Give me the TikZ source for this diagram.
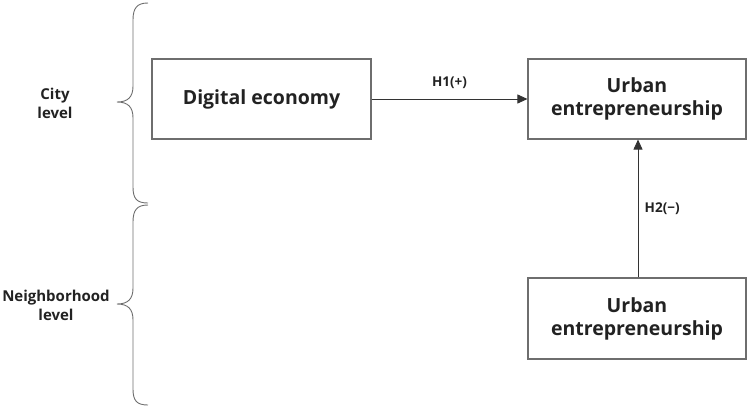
\documentclass[tikz,border=0pt]{standalone}
\usepackage{fontspec}
\setmainfont{Open Sans}
\usetikzlibrary{arrows.meta}
\definecolor{linegray}{HTML}{6E6E6E}
\definecolor{txt}{HTML}{222222}
\tikzset{
  box/.style={draw=linegray, line width=1.1pt, fill=white, align=center, text=txt,
    font=\fontsize{19.5}{23}\selectfont\bfseries, inner sep=0pt},
  lab/.style={text=txt, font=\fontsize{13.5}{16}\selectfont\bfseries, align=center},
  side/.style={text=txt, font=\fontsize{15}{19}\selectfont\bfseries, align=center},
  conn/.style={draw=black!80, line width=0.8pt, -{Triangle[length=10pt,width=9pt]}},
  bracel/.style={draw=linegray, line width=0.9pt}
}
\begin{document}
\begin{tikzpicture}[x=1pt,y=-1pt]
\useasboundingbox (0,0) rectangle (750,408);
\node[box, minimum width=219pt, minimum height=80pt] (de) at (261.5,99) {Digital economy};
\node[box, minimum width=218pt, minimum height=80pt] (ue1) at (637,99) {Urban\\entrepreneurship};
\node[box, minimum width=218pt, minimum height=81pt] (ue2) at (637,318.5) {Urban\\entrepreneurship};
\draw[conn] (de.east) -- (ue1.west) node[lab, midway, above=7pt] (h1) {H1(+)};
\coordinate (a2) at (638,278);
\draw[conn] (ue2.north -| a2) -- (ue1.south -| a2) node[lab, midway, right=3pt] (h2) {H2(−)};
\node[side] (city) at (55,103) {City\\level};
\node[side] (nb) at (56,305) {Neighborhood\\level};
\draw[bracel] (148,3) .. controls (137,3) and (133,8) .. (133,20) -- (133,86)
  .. controls (133,97) and (128,102) .. (117,102)
  .. controls (128,102) and (133,107) .. (133,118) -- (133,187)
  .. controls (133,199) and (137,203) .. (148,203);
\draw[bracel] (148,205) .. controls (137,205) and (133,210) .. (133,222) -- (133,288)
  .. controls (133,299) and (128,304) .. (117,304)
  .. controls (128,304) and (133,309) .. (133,320) -- (133,389)
  .. controls (133,401) and (137,405) .. (148,405);
\end{tikzpicture}
\end{document}
